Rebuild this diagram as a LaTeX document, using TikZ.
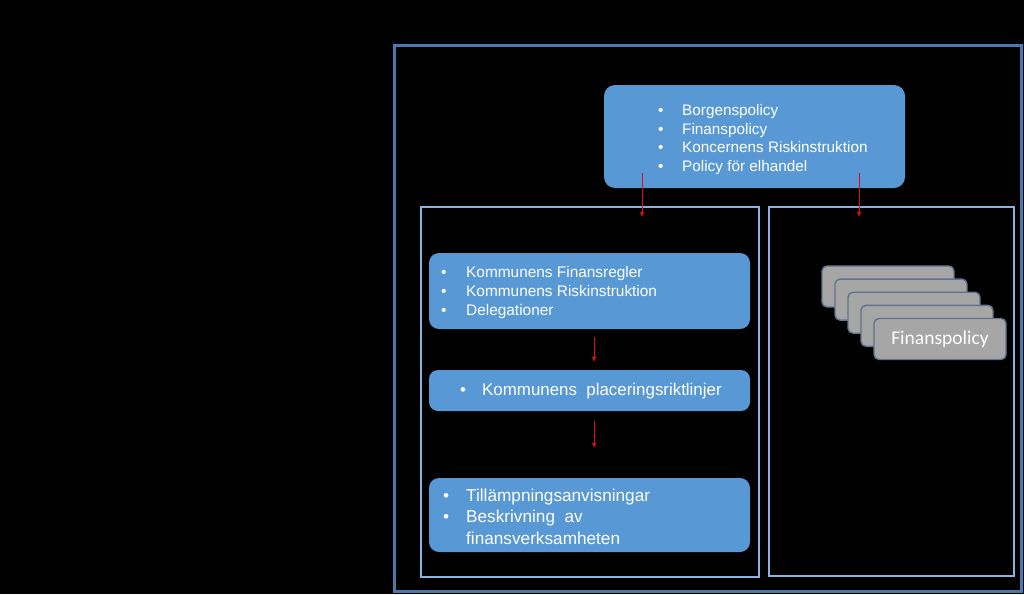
\documentclass[tikz,border=0pt]{standalone}
\usepackage{fontspec}
\setmainfont{Liberation Sans}
\newfontfamily\cardfont{Carlito}
\usetikzlibrary{positioning,arrows.meta,calc}
\definecolor{fpOuter}{RGB}{74,120,176}
\definecolor{fpInner}{RGB}{140,178,224}
\definecolor{fpBox}{RGB}{88,152,212}
\definecolor{fpCard}{RGB}{166,166,166}
\definecolor{fpCardEdge}{RGB}{96,116,142}
\definecolor{fpRed}{RGB}{228,10,10}
\newcommand{\itm}[1][24pt]{\makebox[#1][l]{\textbullet}}

\begin{document}
\begin{tikzpicture}[x=1pt, y=-1pt,
    region/.style={draw=fpInner, line width=2.4pt, inner sep=0pt},
    bluebox/.style={fill=fpBox, rounded corners=11pt, inner sep=0pt},
    txt/.style={text=white, align=left, inner sep=0pt},
    card/.style={fill=fpCard, draw=fpCardEdge, line width=1.4pt, rounded corners=5pt,
      minimum width=132pt, minimum height=41pt, inner sep=0pt, text=white,
      font=\cardfont\fontsize{19.5}{21}\selectfont},
    redarrow/.style={-{Triangle[length=5pt,width=4pt]}, fpRed, line width=0.8pt}]
  % Background and frames
  \useasboundingbox (0,0) rectangle (1024,594);
  \fill[black] (0,0) rectangle (1024,594);
  \draw[fpOuter, line width=3pt] (394,46) rectangle (1021,591);
  \node[region, minimum width=338pt, minimum height=370pt] (kommunreg) at (590,392) {};
  \node[region, minimum width=245pt, minimum height=369pt] (bolagreg) at (891.5,391.5) {};

  % Group level
  \node[bluebox, minimum width=301pt, minimum height=103pt] (koncern) at (754.5,136.5) {};
  \node[txt, anchor=west, font=\fontsize{15.3}{18.4}\selectfont] (koncerntxt) at (658,139.5)
    {\itm Borgenspolicy\\ \itm Finanspolicy\\ \itm Koncernens Riskinstruktion\\ \itm Policy för elhandel};

  % Municipality level
  \node[bluebox, rounded corners=10pt, minimum width=321pt, minimum height=76pt] (kommun) at (589.5,291) {};
  \node[txt, anchor=west, font=\fontsize{15.4}{19}\selectfont] (kommuntxt) at (441,293)
    {\itm[25pt]Kommunens Finansregler\\ \itm[25pt]Kommunens Riskinstruktion\\ \itm[25pt]Delegationer};

  \node[bluebox, rounded corners=9pt, minimum width=321pt, minimum height=41pt] (placering) at (589.5,390.5) {};
  \node[txt, anchor=west, font=\fontsize{16.9}{20}\selectfont] (placeringtxt) at (460,391.5)
    {\itm[22pt]Kommunens\ \ placeringsriktlinjer};

  \node[bluebox, rounded corners=10pt, minimum width=321pt, minimum height=74pt] (tillamp) at (589.5,515) {};
  \node[txt, anchor=west, font=\fontsize{17.2}{21.5}\selectfont] (tillamptxt) at (443,516.5)
    {\itm[23pt]Tillämpningsanvisningar\\ \itm[23pt]Beskrivning\ \ av\\ \hspace*{23pt}finansverksamheten};

  % Company level: stacked policies
  \foreach \i in {0,...,3}
    \node[card] (card\i) at (888+13*\i, 286.5+13.1*\i) {};
  \node[card] (card4) at (940,339) {Finanspolicy};

  % Arrows
  \coordinate (kl) at ([xshift=-112.5pt,yshift=15pt]koncern.south);
  \coordinate (kr) at ([xshift=104.5pt,yshift=15pt]koncern.south);
  \draw[redarrow, shorten >=-11pt] (kl) -- (kl |- kommunreg.north);
  \draw[redarrow, shorten >=-11pt] (kr) -- (kr |- bolagreg.north);
  \draw[redarrow, shorten <=8pt, shorten >=8pt] ([xshift=4.5pt]kommun.south) -- ([xshift=4.5pt]placering.north);
  \draw[redarrow, shorten <=10pt, shorten >=30pt] ([xshift=4.5pt]placering.south) -- ([xshift=4.5pt]tillamp.north);
\end{tikzpicture}
\end{document}
